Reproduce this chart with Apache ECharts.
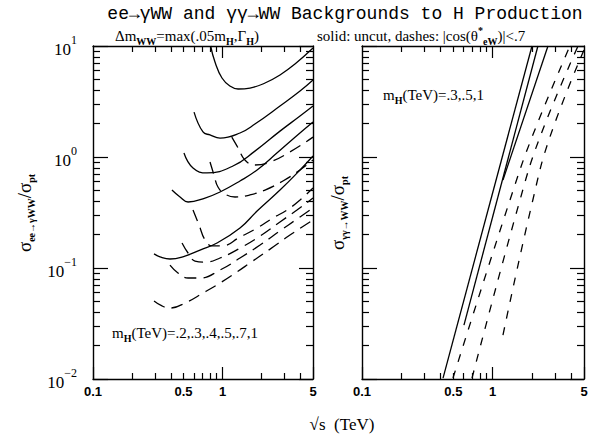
<!DOCTYPE html>
<html><head><meta charset="utf-8">
<script src="https://cdn.jsdelivr.net/npm/echarts@6/dist/echarts.min.js"></script>
<style>html,body{margin:0;padding:0;background:#fff}#c{width:598px;height:442px}</style>
</head><body><div id="c"></div>
<script>
// ---------- tick values ----------
const xMajorTicks = [1];
const xMinorTicks = [0.2,0.3,0.4,0.5,0.6,0.7,0.8,0.9,2,3,4];
const xTickLabels = [0.1,0.5,1,5];
const yMajorTicks = [0.01,0.1,1,10];
const yMinorTicks = [0.02,0.03,0.04,0.05,0.06,0.07,0.08,0.09,0.2,0.3,0.4,0.5,0.6,0.7,0.8,0.9,2,3,4,5,6,7,8,9];
const yTickLabels = [0.01,0.1,1,10];

// ---------- left panel: ee -> gamma WW (solid: uncut) ----------
const eeSolid07_x = [0.81,0.875,0.991,1.14,1.32,1.63,2.13,2.78,3.63,5.0];
const eeSolid07_y = [10,7.17,5.15,4.36,4.10,4.18,4.64,5.48,6.88,9.59];
const eeSolid05_x = [0.603,0.707,0.801,0.957,1.365,1.78,2.78,3.97,5.0];
const eeSolid05_y = [2.54,1.68,1.58,1.48,1.645,1.98,2.88,3.93,4.94];
const eeSolid04_x = [0.504,0.592,0.759,1.205,1.78,2.78,3.97,5.0];
const eeSolid04_y = [1.086,0.796,0.718,0.830,1.13,1.71,2.34,2.88];
const eeSolid03_x = [0.407,0.470,0.542,0.733,0.957,1.365,1.85,2.63,3.63,5.0];
const eeSolid03_y = [0.504,0.436,0.393,0.427,0.484,0.608,0.764,1.086,1.51,2.07];
const eeSolid02_x = [0.296,0.329,0.393,0.513,0.671,0.907,1.365,1.85,2.78,3.97,5.0];
const eeSolid02_y = [0.134,0.126,0.1205,0.128,0.145,0.168,0.229,0.326,0.504,0.764,1.02];
// ---------- left panel: dashes |cos|<.7 ----------
const eeDash1_x = [1.18,1.32,1.49,1.78,2.33,3.32,5.0];
const eeDash1_y = [1.51,1.205,0.94,0.847,0.901,1.11,1.51];
const eeDash07_x = [0.801,0.860,0.923,1.045,1.25,1.63,2.13,2.93,3.97,5.0];
const eeDash07_y = [0.901,0.689,0.537,0.464,0.436,0.455,0.504,0.608,0.764,0.94];
const eeDash05_x = [0.592,0.659,0.733,0.830,0.991,1.365,1.85,2.45,3.15,3.97,5.0];
const eeDash05_y = [0.333,0.244,0.179,0.158,0.158,0.190,0.229,0.282,0.333,0.410,0.526];
const eeDash04_x = [0.487,0.542,0.613,0.733,0.957,1.365,1.95,2.78,3.76,5.0];
const eeDash04_y = [0.168,0.1365,0.1156,0.113,0.123,0.151,0.194,0.260,0.333,0.427];
const eeDash03_x = [0.393,0.453,0.542,0.671,0.957,1.365,1.95,2.78,3.76,5.0];
const eeDash03_y = [0.106,0.0902,0.0813,0.0813,0.0959,0.123,0.161,0.216,0.276,0.347];
const eeDash02_x = [0.296,0.341,0.393,0.532,0.707,0.957,1.29,1.63,2.33,3.32,5.0];
const eeDash02_y = [0.0504,0.0455,0.0436,0.0494,0.0595,0.0732,0.0920,0.111,0.148,0.198,0.271];

// ---------- right panel: gamma gamma -> WW ----------
const ggSolid03_x = [0.417,2.0];
const ggSolid03_y = [0.0102,10];
const ggSolid05_x = [0.603,2.22];
const ggSolid05_y = [0.0306,10];
const ggSolid1_x = [1.199,2.65];
const ggSolid1_y = [0.621,10];
const ggDash03_x = [0.497,1.357,2.00,3.90];
const ggDash03_y = [0.0102,0.410,1.51,10];
const ggDash05_x = [0.695,1.618,2.30,4.50];
const ggDash05_y = [0.0102,0.410,1.51,10];
const ggDash1_x = [1.199,2.03,2.74,5.0];
const ggDash1_y = [0.0249,0.410,1.51,9.2];

// ---------- helpers ----------
const SERIF = "'Liberation Serif','DejaVu Serif',serif";
const fmt = v => String(+(+v).toPrecision(3));
function xAx(grid, pos, ticks, len, main, labels) {
  return {
    type:'log', logBase:10, min:0.1, max:5, gridIndex:grid, position:pos,
    axisLine:{show:main, lineStyle:{color:'#000', width:1.4}},
    axisTick:{show:true, inside:true, length:len, customValues:ticks, lineStyle:{color:'#000', width:1.2}},
    axisLabel:labels ? {show:true, customValues:xTickLabels, margin:6, color:'#000',
      fontFamily:"'Liberation Sans',Arial,sans-serif", fontWeight:'bold', fontSize:13, formatter:fmt} : {show:false},
    splitLine:{show:false}, minorTick:{show:false}
  };
}
function yAx(grid, pos, ticks, len, main, labels) {
  return {
    type:'log', logBase:10, min:0.01, max:10, gridIndex:grid, position:pos,
    axisLine:{show:main, lineStyle:{color:'#000', width:1.4}},
    axisTick:{show:true, inside:true, length:len, customValues:ticks, lineStyle:{color:'#000', width:1.2}},
    axisLabel:labels ? {show:true, customValues:yTickLabels, margin:16, color:'#000',
      formatter: v => { const e = Math.round(Math.log10(v)); return '{b|10}{s|' + (e<0 ? '\u2212'+(-e) : e) + '}'; },
      rich:{ b:{fontFamily:SERIF, fontSize:17, color:'#000', lineHeight:24, verticalAlign:'bottom'},
             s:{fontFamily:SERIF, fontSize:12, color:'#000', lineHeight:12, verticalAlign:'top'} } } : {show:false},
    splitLine:{show:false}, minorTick:{show:false}
  };
}
function line(xs, ys, ai, dash, smooth) {
  return { type:'line', xAxisIndex:ai, yAxisIndex:ai, data: xs.map((x,i)=>[x, ys[i]]),
    symbol:'none', showSymbol:false, smooth: smooth ? 0.45 : false,
    clip:true, silent:true, animation:false,
    lineStyle:{color:'#000', width:1.3, type: dash || 'solid'} };
}
const LD = [12,7], RD = [8,9];

const xAxes = [], yAxes = [];
for (const g of [0,1]) {
  xAxes.push(xAx(g,'bottom',[0.1,1,5],12,true,true));
  xAxes.push(xAx(g,'bottom',xMinorTicks,6,false,false));
  xAxes.push(xAx(g,'top',xMajorTicks,12,true,false));
  xAxes.push(xAx(g,'top',xMinorTicks,6,false,false));
  yAxes.push(yAx(g,'left',yMajorTicks,15,true,g===0));
  yAxes.push(yAx(g,'left',yMinorTicks,7,false,false));
  yAxes.push(yAx(g,'right',yMajorTicks,14,true,false));
  yAxes.push(yAx(g,'right',yMinorTicks,7,false,false));
}

const series = [
  line(eeSolid07_x, eeSolid07_y, 0, null, true),
  line(eeSolid05_x, eeSolid05_y, 0, null, true),
  line(eeSolid04_x, eeSolid04_y, 0, null, true),
  line(eeSolid03_x, eeSolid03_y, 0, null, true),
  line(eeSolid02_x, eeSolid02_y, 0, null, true),
  line(eeDash1_x, eeDash1_y, 0, LD, true),
  line(eeDash07_x, eeDash07_y, 0, LD, true),
  line(eeDash05_x, eeDash05_y, 0, LD, true),
  line(eeDash04_x, eeDash04_y, 0, LD, true),
  line(eeDash03_x, eeDash03_y, 0, LD, true),
  line(eeDash02_x, eeDash02_y, 0, LD, true),
  line(ggSolid03_x, ggSolid03_y, 4, null, false),
  line(ggSolid05_x, ggSolid05_y, 4, null, false),
  line(ggSolid1_x, ggSolid1_y, 4, null, false),
  line(ggDash03_x, ggDash03_y, 4, RD, true),
  line(ggDash05_x, ggDash05_y, 4, RD, true),
  line(ggDash1_x, ggDash1_y, 4, RD, true)
];

const sub = {fontFamily:SERIF, fontSize:10, fontWeight:'bold', color:'#000', lineHeight:10, verticalAlign:'bottom'};
const sup = {fontFamily:SERIF, fontSize:10, fontWeight:'bold', color:'#000', lineHeight:10, verticalAlign:'top'};
function richText(fs) {
  return { t:{fontFamily:SERIF, fontSize:fs, color:'#000', lineHeight:fs+6, verticalAlign:'middle'}, sub:sub, sup:sup };
}

const option = {
  backgroundColor:'#fff',
  animation:false,
  grid:[
    {left:93, top:46, width:220, height:333, containLabel:false},
    {left:362, top:46, width:222, height:333, containLabel:false}
  ],
  xAxis:xAxes, yAxis:yAxes, series:series,
  graphic:[
    {type:'text', x:345, y:14, style:{text:'ee\u2192\u03b3WW and \u03b3\u03b3\u2192WW Backgrounds to H Production',
      fontFamily:"'Liberation Mono','DejaVu Sans Mono',monospace", fontSize:18, fill:'#000', align:'center', verticalAlign:'middle'}},
    {type:'text', x:115, y:36, style:{text:'{t|\u0394m}{sub|WW}{t|=max(.05m}{sub|H}{t|,\u0393}{sub|H}{t|)}',
      rich:richText(15), align:'left', verticalAlign:'middle'}},
    {type:'text', x:317, y:36, style:{text:'{t|solid: uncut, dashes: |cos(\u03b8}{sup|*}{sub|eW}{t|)|<.7}',
      rich:richText(15), align:'left', verticalAlign:'middle'}},
    {type:'text', x:112, y:333, style:{text:'{t|m}{sub|H}{t|(TeV)=.2,.3,.4,.5,.7,1}',
      rich:richText(15), align:'left', verticalAlign:'middle'}},
    {type:'text', x:383, y:95, style:{text:'{t|m}{sub|H}{t|(TeV)=.3,.5,1}',
      rich:richText(15), align:'left', verticalAlign:'middle'}},
    {type:'text', x:24, y:213, rotation:Math.PI/2, style:{text:'{t|\u03c3}{sub|ee\u2192\u03b3WW}{t|/\u03c3}{sub|pt}',
      rich:richText(19), align:'center', verticalAlign:'middle'}},
    {type:'text', x:337, y:213, rotation:Math.PI/2, style:{text:'{t|\u03c3}{sub|\u03b3\u03b3\u2192WW}{t|/\u03c3}{sub|pt}',
      rich:richText(19), align:'center', verticalAlign:'middle'}},
    {type:'text', x:342, y:424, style:{text:'\u221as  (TeV)', fontFamily:SERIF, fontSize:17, fill:'#000', align:'center', verticalAlign:'middle'}}
  ]
};
const chart = echarts.init(document.getElementById('c'), null, {renderer:'svg', width:598, height:442});
chart.setOption(option);
</script></body></html>
